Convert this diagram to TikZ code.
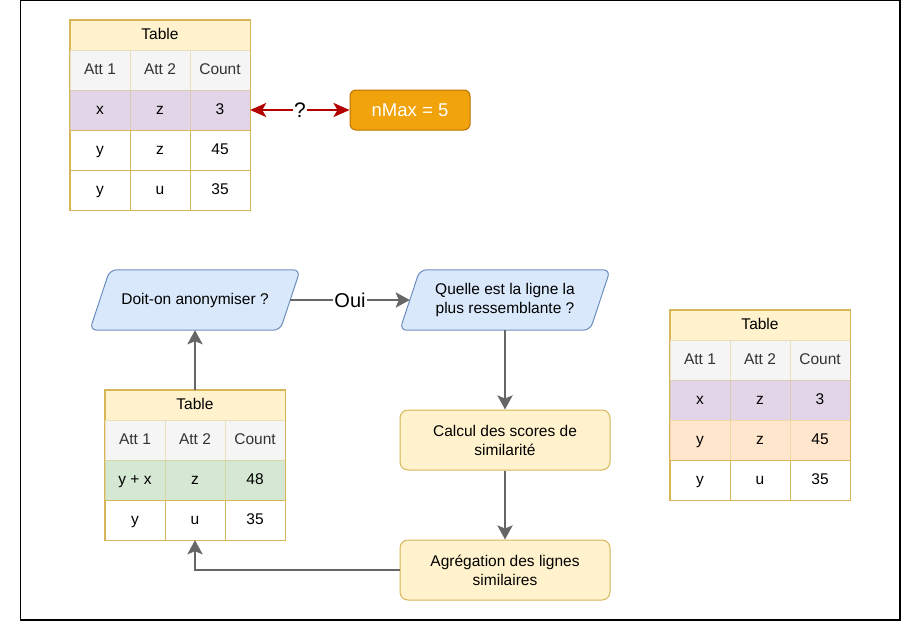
\documentclass[tikz,border=0pt]{standalone}
\usepackage{fontspec}
\setmainfont{Liberation Sans}
\usetikzlibrary{arrows.meta}
\definecolor{hdrfill}{HTML}{FFF2CC}
\definecolor{hdrdraw}{HTML}{D6B656}
\definecolor{attfill}{HTML}{F5F5F5}
\definecolor{atttext}{HTML}{333333}
\definecolor{purplefill}{HTML}{E1D5E7}
\definecolor{greenfill}{HTML}{D5E8D4}
\definecolor{orangefill}{HTML}{FFE6CC}
\definecolor{bluefill}{HTML}{DAE8FC}
\definecolor{bluedraw}{HTML}{6C8EBF}
\definecolor{nmaxfill}{HTML}{F0A30A}
\definecolor{nmaxdraw}{HTML}{BD7000}
\definecolor{redline}{HTML}{B20000}
\definecolor{grayline}{HTML}{666666}
\tikzset{
  x=1pt, y=-1pt,
  txt/.style={font=\fontsize{15.5}{19}\selectfont},
  cell/.style={txt, minimum width=60, minimum height=40, inner sep=0, text height=11.5, text depth=3.5, draw=hdrdraw, fill=white},
  attcell/.style={cell, fill=attfill, text=atttext, draw=hdrdraw!35!attfill},
  purplecell/.style={cell, fill=purplefill, draw=hdrdraw!35!purplefill},
  greencell/.style={cell, fill=greenfill, draw=hdrdraw!35!greenfill},
  orangecell/.style={cell, fill=orangefill, draw=hdrdraw!35!orangefill},
  hdrcell/.style={txt, minimum width=180, minimum height=30, inner sep=0, text height=11.5, text depth=3.5, draw=hdrdraw, fill=hdrfill},
  tborder/.style={draw=hdrdraw, line width=1pt},
  yellowbox/.style={txt, draw=hdrdraw, fill=hdrfill, rounded corners=8, minimum width=210, minimum height=60, align=center, line width=1pt},
  paratext/.style={txt, minimum width=210, minimum height=60, inner sep=0, align=center},
  parashape/.style={draw=bluedraw, fill=bluefill, rounded corners=7, line width=1pt},
  grayarrow/.style={draw=grayline, line width=2.7pt, -{Stealth[length=14, width=15, inset=3]}},
  redarrow/.style={draw=redline, line width=2.5pt, {Stealth[length=16, width=14, inset=4]}-{Stealth[length=16, width=14, inset=4]}},
}
\begin{document}
\begin{tikzpicture}
\useasboundingbox (0,0) rectangle (901,621);
\draw[black, line width=1.2pt] (20.5,0.5) rectangle (900,620);

% ---------- Table 1 (top) ----------
\node[hdrcell] (t1h) at (160,35) {Table};
\node[attcell] (t1a1) at (100,70) {Att 1};
\node[attcell] (t1a2) at (160,70) {Att 2};
\node[attcell] (t1a3) at (220,70) {Count};
\node[purplecell] (t1r1c1) at (100,110) {x};
\node[purplecell] (t1r1c2) at (160,110) {z};
\node[purplecell] (t1r1c3) at (220,110) {3};
\node[cell] (t1r2c1) at (100,150) {y};
\node[cell] (t1r2c2) at (160,150) {z};
\node[cell] (t1r2c3) at (220,150) {45};
\node[cell] (t1r3c1) at (100,190) {y};
\node[cell] (t1r3c2) at (160,190) {u};
\node[cell] (t1r3c3) at (220,190) {35};
\draw[tborder] (t1h.north west) rectangle (t1r3c3.south east);

\node[txt, font=\fontsize{18.5}{21}\selectfont, text=white, draw=nmaxdraw, fill=nmaxfill, rounded corners=6, minimum width=120, minimum height=40, inner sep=0, line width=1pt] (nmax) at (410,110) {nMax = 5};
\draw[redarrow] (t1r1c3.east) -- node[fill=white, inner sep=1pt, font=\fontsize{21}{23}\selectfont] (q) {?} (nmax.west);

% ---------- Flow ----------
\node[paratext] (doit) at (195,300) {};
\draw[parashape] ([xshift=20]doit.north west) -- (doit.north east) -- ([xshift=-20]doit.south east) -- (doit.south west) -- cycle;
\node[txt] at (doit.center) {Doit-on anonymiser ?};

\node[paratext] (quelle) at (505,300) {};
\draw[parashape] ([xshift=20]quelle.north west) -- (quelle.north east) -- ([xshift=-20]quelle.south east) -- (quelle.south west) -- cycle;
\node[txt, align=center] at (quelle.center) {Quelle est la ligne la\\plus ressemblante ?};

\node[yellowbox] (calc) at (505,440) {Calcul des scores de\\similarité};
\node[yellowbox] (agg) at (505,570) {Agrégation des lignes\\similaires};

% ---------- Table 2 (middle) ----------
\node[hdrcell] (t2h) at (195,405) {Table};
\node[attcell] (t2a1) at (135,440) {Att 1};
\node[attcell] (t2a2) at (195,440) {Att 2};
\node[attcell] (t2a3) at (255,440) {Count};
\node[greencell] (t2r1c1) at (135,480) {y + x};
\node[greencell] (t2r1c2) at (195,480) {z};
\node[greencell] (t2r1c3) at (255,480) {48};
\node[cell] (t2r2c1) at (135,520) {y};
\node[cell] (t2r2c2) at (195,520) {u};
\node[cell] (t2r2c3) at (255,520) {35};
\draw[tborder] (t2h.north west) rectangle (t2r2c3.south east);

% ---------- Table 3 (right) ----------
\node[hdrcell] (t3h) at (760,325) {Table};
\node[attcell] (t3a1) at (700,360) {Att 1};
\node[attcell] (t3a2) at (760,360) {Att 2};
\node[attcell] (t3a3) at (820,360) {Count};
\node[purplecell] (t3r1c1) at (700,400) {x};
\node[purplecell] (t3r1c2) at (760,400) {z};
\node[purplecell] (t3r1c3) at (820,400) {3};
\node[orangecell] (t3r2c1) at (700,440) {y};
\node[orangecell] (t3r2c2) at (760,440) {z};
\node[orangecell] (t3r2c3) at (820,440) {45};
\node[cell] (t3r3c1) at (700,480) {y};
\node[cell] (t3r3c2) at (760,480) {u};
\node[cell] (t3r3c3) at (820,480) {35};
\draw[tborder] (t3h.north west) rectangle (t3r3c3.south east);

% ---------- Connectors ----------
\draw[grayarrow] ([xshift=-10]doit.east) -- node[fill=white, inner sep=1pt, font=\fontsize{20}{22}\selectfont] (oui) {Oui} ([xshift=10]quelle.west);
\draw[grayarrow] (quelle.south) -- (calc.north);
\draw[grayarrow] (calc.south) -- (agg.north);
\draw[grayarrow] (agg.west) -| (t2r2c2.south);
\draw[grayarrow] (t2h.north) -- (doit.south);
\end{tikzpicture}
\end{document}
